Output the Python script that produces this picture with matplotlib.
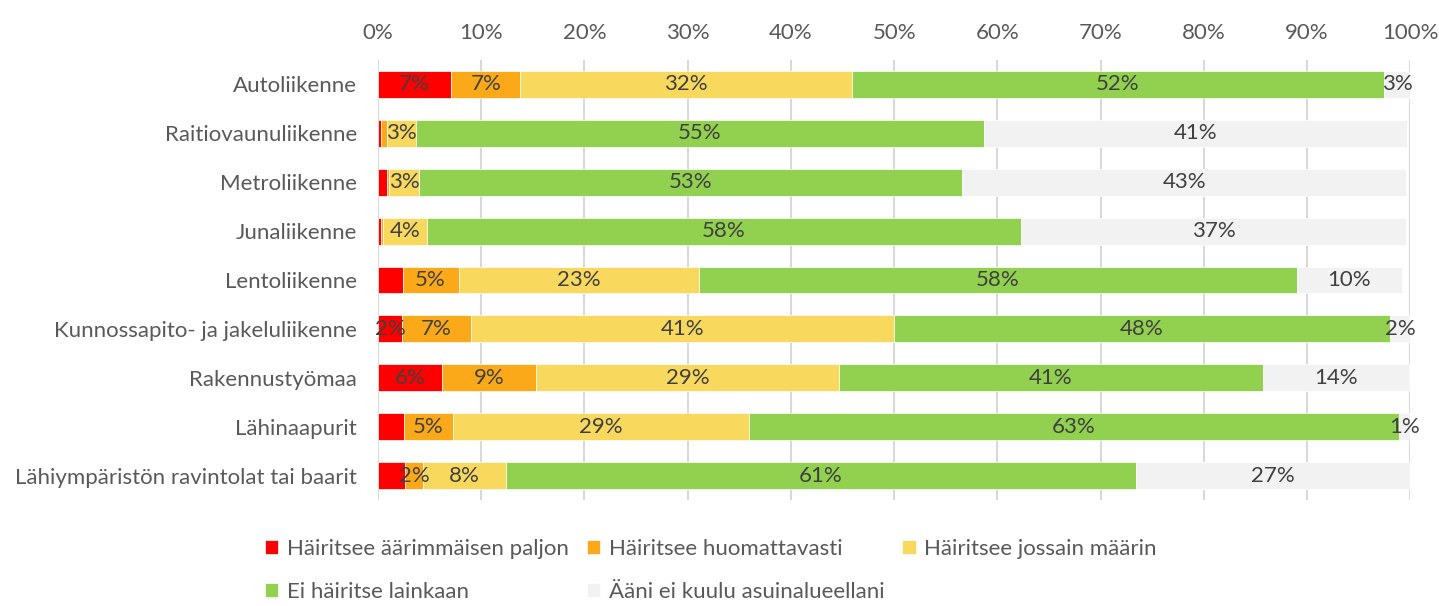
import numpy as np
import matplotlib.pyplot as plt

plt.rcParams['font.family'] = ['Lato', 'DejaVu Sans']

categories = ["Autoliikenne", "Raitiovaunuliikenne", "Metroliikenne", "Junaliikenne",
              "Lentoliikenne", "Kunnossapito- ja jakeluliikenne", "Rakennustyömaa",
              "Lähinaapurit", "Lähiympäristön ravintolat tai baarit"]
series = ["Häiritsee äärimmäisen paljon", "Häiritsee huomattavasti",
          "Häiritsee jossain määrin", "Ei häiritse lainkaan", "Ääni ei kuulu asuinalueellani"]
extreme = [7.1, 0.3, 0.9, 0.3, 2.4, 2.3, 6.2, 2.5, 2.6]
notable = [6.7, 0.6, 0.2, 0.2, 5.4, 6.7, 9.1, 4.8, 1.8]
somewhat = [32.1, 2.8, 2.9, 4.2, 23.3, 41.0, 29.4, 28.6, 8.0]
not_at_all = [51.6, 55.0, 52.6, 57.6, 57.9, 48.0, 41.0, 63.0, 61.0]
not_heard = [2.6, 41.0, 43.0, 37.3, 10.2, 2.1, 14.2, 1.1, 26.6]

colors = ["#FF0000", "#FBA919", "#F8D95E", "#92D050", "#F2F2F2"]
# small segments that still carry a label in the original
extra_labels = {(0, 4), (5, 0), (8, 1), (5, 4), (7, 4)}

data = np.array([extreme, notable, somewhat, not_at_all, not_heard])

fig = plt.figure(figsize=(14.39, 6.06), dpi=100)
ax = fig.add_axes([0.2627, 0.175, 0.7173, 0.726])

y = np.arange(len(categories))
left = np.zeros(len(categories))
for s in range(len(series)):
    vals = data[s]
    ax.barh(y, vals, left=left, height=0.55, color=colors[s], label=series[s],
            edgecolor="white", linewidth=0.5, zorder=2)
    for i, v in enumerate(vals):
        if v >= 2.75 or (i, s) in extra_labels:
            ax.text(left[i] + v / 2, i, f"{round(v):.0f}%", ha="center", va="center",
                    fontsize=16, color="#404040", zorder=3)
    left += vals

ax.set_xlim(0, 100)
ax.set_ylim(8.5, -0.5)
ax.set_xticks(np.arange(0, 101, 10))
ax.set_xticklabels([f"{t}%" for t in range(0, 101, 10)])
ax.xaxis.tick_top()
ax.set_yticks(y)
ax.set_yticklabels(categories)
ax.tick_params(axis="both", length=0, labelsize=16, colors="#595959")
ax.tick_params(axis="y", pad=15)
ax.tick_params(axis="x", pad=12)
ax.grid(axis="x", color="#D9D9D9", linewidth=1.5, zorder=0)
for sp in ax.spines.values():
    sp.set_visible(False)

handles, labels = ax.get_legend_handles_labels()
order = [0, 3, 1, 4, 2]
fig.legend([handles[k] for k in order], [labels[k] for k in order], ncol=3,
           loc="center", bbox_to_anchor=(0.494, 0.059),
           frameon=False, fontsize=16, handlelength=0.6, handleheight=0.6,
           handletextpad=0.4, columnspacing=0.8, labelspacing=1.05,
           labelcolor="#595959")

fig.savefig("out.png", dpi=100)
